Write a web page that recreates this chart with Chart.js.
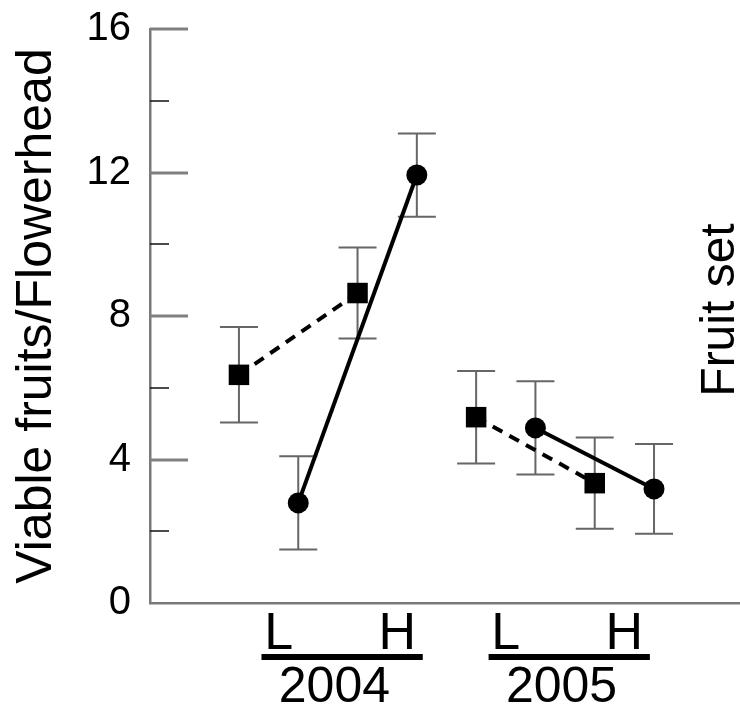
<!DOCTYPE html>
<html>
<head>
<meta charset="utf-8">
<script src="https://cdn.jsdelivr.net/npm/chart.js@4.4.1/dist/chart.umd.min.js"></script>
<style>
  html, body { margin: 0; padding: 0; background: #fff; overflow: hidden; }
  #wrap { position: relative; width: 740px; height: 711px; }
  #fruitChart { display: block; }
</style>
</head>
<body>
<div id="wrap"><canvas id="fruitChart"></canvas></div>
<script>
const years = ['2004', '2005'];
const levels = ['L', 'H'];
// viable fruits per flowerhead (mean, SE); order: 2004 L, 2004 H, 2005 L, 2005 H
const squareMeans = [6.36, 8.64, 5.18, 3.34];
const squareErrors = [1.33, 1.27, 1.29, 1.27];
const circleMeans = [2.79, 11.93, 4.88, 3.18];
const circleErrors = [1.30, 1.16, 1.30, 1.25];

const FONT = '"Liberation Sans", Arial, Helvetica, sans-serif';
const AXIS_GREY = '#7a7a7a';
const labelShift = [0.17, 0]; // nudge of the L/H labels per year

// two slots per level: square series first, circle series second
function xOf(yi, li, offset) { return 1.5 + yi * 4 + li * 2 + offset; }
function labelX(yi, li) { return xOf(yi, li, 0.5) + labelShift[yi]; }

function buildPoints(means, errors, yi, offset) {
  return levels.map((lv, li) => {
    const k = yi * 2 + li;
    return { x: xOf(yi, li, offset), y: means[k], err: errors[k] };
  });
}

const datasets = [];
years.forEach((yr, yi) => {
  datasets.push({
    label: 'squares ' + yr,
    data: buildPoints(squareMeans, squareErrors, yi, 0),
    borderColor: '#000',
    borderWidth: 4,
    borderDash: [11, 8],
    pointStyle: 'rect',
    pointRadius: 14.5,
    pointBackgroundColor: '#000',
    pointBorderWidth: 0
  });
  datasets.push({
    label: 'circles ' + yr,
    data: buildPoints(circleMeans, circleErrors, yi, 1),
    borderColor: '#000',
    borderWidth: 4,
    pointStyle: 'circle',
    pointRadius: 10.5,
    pointBackgroundColor: '#000',
    pointBorderWidth: 0
  });
});

// vertical error bars with caps, under the markers
const errorBars = {
  id: 'errorBars',
  beforeDatasetsDraw(chart) {
    const { ctx, scales: { x, y } } = chart;
    ctx.save();
    ctx.strokeStyle = '#666';
    ctx.lineWidth = 2;
    chart.data.datasets.forEach(ds => ds.data.forEach(p => {
      const px = x.getPixelForValue(p.x);
      const top = y.getPixelForValue(p.y + p.err);
      const bot = y.getPixelForValue(p.y - p.err);
      ctx.beginPath();
      ctx.moveTo(px, top); ctx.lineTo(px, bot);
      ctx.moveTo(px - 19, top); ctx.lineTo(px + 19, top);
      ctx.moveTo(px - 19, bot); ctx.lineTo(px + 19, bot);
      ctx.stroke();
    }));
    ctx.restore();
  }
};

// tick marks pointing into the plot, long on labelled values, short between
const innerTicks = {
  id: 'innerTicks',
  beforeDatasetsDraw(chart) {
    const { ctx, chartArea, scales: { y } } = chart;
    ctx.save();
    y.ticks.forEach(t => {
      if (t.value === 0) return;
      const major = t.value % 4 === 0;
      const py = Math.round(y.getPixelForValue(t.value));
      ctx.strokeStyle = major ? '#808080' : '#111';
      ctx.lineWidth = major ? 3 : 1.5;
      ctx.beginPath();
      ctx.moveTo(chartArea.left, py);
      ctx.lineTo(chartArea.left + (major ? 38 : 19), py);
      ctx.stroke();
    });
    ctx.restore();
  }
};

// year captions with bars under the L/H labels, plus the side label
const yearCaptions = {
  id: 'yearCaptions',
  afterDraw(chart) {
    const { ctx, chartArea, scales: { x } } = chart;
    ctx.save();
    ctx.fillStyle = '#000';
    years.forEach((yr, yi) => {
      const x0 = x.getPixelForValue(labelX(yi, 0) - 0.29);
      const x1 = x.getPixelForValue(labelX(yi, 1) + 0.43);
      ctx.fillRect(x0, chartArea.bottom + 51, x1 - x0, 6);
      const cx = x.getPixelForValue((labelX(yi, 0) + labelX(yi, 1)) / 2 - 0.06);
      ctx.font = '50px ' + FONT;
      ctx.textAlign = 'center';
      ctx.textBaseline = 'alphabetic';
      ctx.fillText(yr, cx, chartArea.bottom + 99);
    });
    ctx.translate(chart.width - 6, (chartArea.top + chartArea.bottom) / 2 - 6);
    ctx.rotate(-Math.PI / 2);
    ctx.font = '48px ' + FONT;
    ctx.textAlign = 'center';
    ctx.textBaseline = 'alphabetic';
    ctx.fillText('Fruit set', 0, 0);
    ctx.restore();
  }
};

new Chart(document.getElementById('fruitChart'), {
  type: 'line',
  data: { datasets },
  options: {
    responsive: true,
    maintainAspectRatio: false,
    animation: false,
    devicePixelRatio: 1,
    layout: { autoPadding: false, padding: { top: 29, right: 0, bottom: 0, left: 0 } },
    plugins: {
      legend: { display: false },
      tooltip: { enabled: false }
    },
    scales: {
      x: {
        type: 'linear',
        min: 0,
        max: 9.95,
        afterBuildTicks: s => {
          s.ticks = [];
          years.forEach((yr, yi) => levels.forEach((lv, li) => s.ticks.push({ value: labelX(yi, li) })));
        },
        afterFit: s => { s.height = 108; s.paddingLeft = 0; s.paddingRight = 0; },
        ticks: {
          autoSkip: false,
          maxRotation: 0,
          padding: 0,
          color: '#000',
          font: { family: FONT, size: 52 },
          callback: (v, i) => levels[i % 2]
        },
        grid: { display: false, drawTicks: false },
        border: { display: true, color: AXIS_GREY, width: 2.5 }
      },
      y: {
        min: 0,
        max: 16,
        afterFit: s => { s.width = 150; s.paddingTop = 0; s.paddingBottom = 0; },
        ticks: {
          stepSize: 2,
          padding: 19,
          color: '#000',
          font: { family: FONT, size: 40 },
          callback: v => (v % 4 === 0 ? v : '')
        },
        grid: { display: false, drawTicks: false },
        border: { display: true, color: AXIS_GREY, width: 2.5 },
        title: {
          display: true,
          text: 'Viable fruits/Flowerhead',
          color: '#000',
          font: { family: FONT, size: 50 },
          padding: { top: 7, bottom: 0 }
        }
      }
    }
  },
  plugins: [errorBars, innerTicks, yearCaptions]
});
</script>
</body>
</html>
